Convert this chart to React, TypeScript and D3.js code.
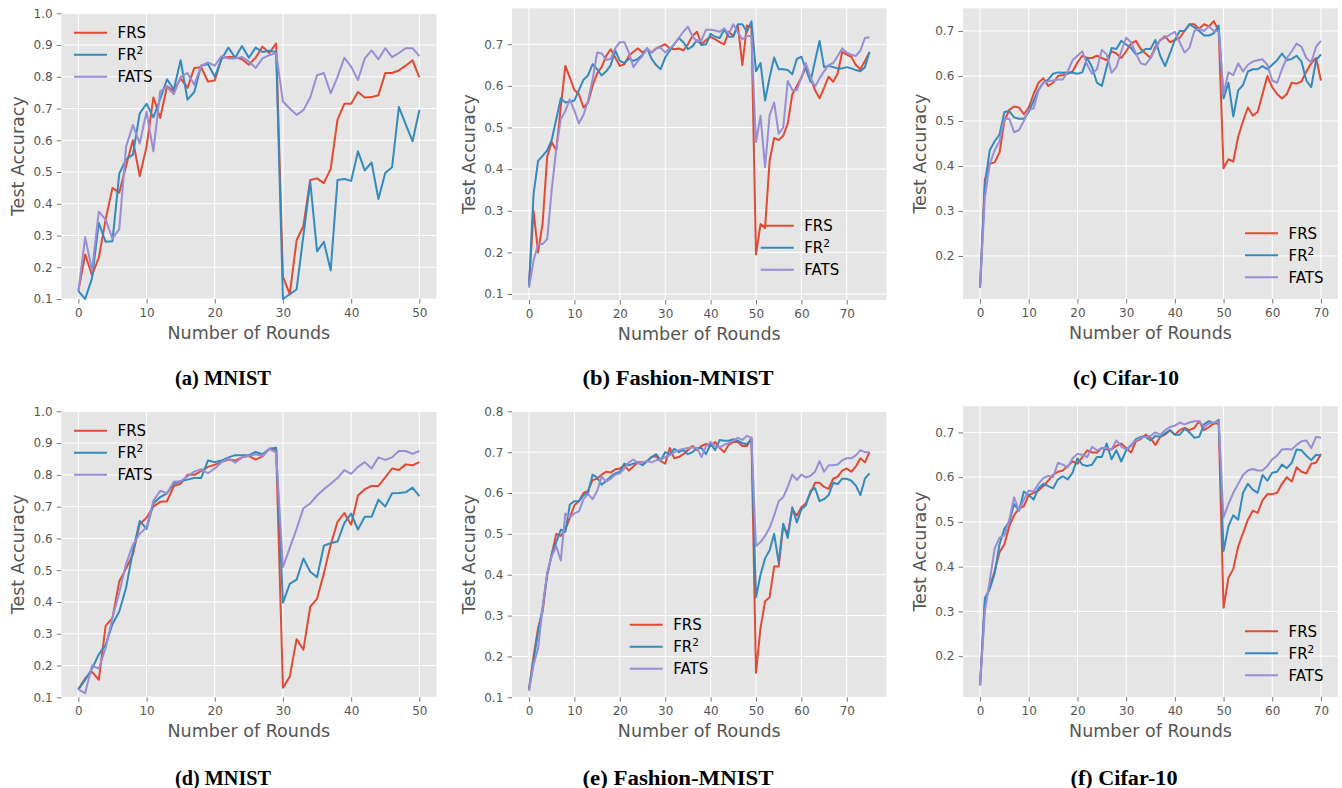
import React, { useEffect, useRef } from 'react';
import * as d3 from 'd3';

// ---- data ----
const seriesNames = ['FRS', 'FR2', 'FATS'];
const seriesColors = ['#E24A33', '#348ABD', '#988ED5'];
const captions = ['(a) MNIST', '(b) Fashion-MNIST', '(c) Cifar-10', '(d) MNIST', '(e) Fashion-MNIST', '(f) Cifar-10'];

const ticksX50 = [0, 10, 20, 30, 40, 50];
const ticksX70 = [0, 10, 20, 30, 40, 50, 60, 70];
const ticksY10 = [0.1, 0.2, 0.3, 0.4, 0.5, 0.6, 0.7, 0.8, 0.9, 1.0];
const ticksY07 = [0.1, 0.2, 0.3, 0.4, 0.5, 0.6, 0.7];
const ticksY27 = [0.2, 0.3, 0.4, 0.5, 0.6, 0.7];
const ticksY08 = [0.1, 0.2, 0.3, 0.4, 0.5, 0.6, 0.7, 0.8];

// (a) MNIST
const aFRS = [0.125, 0.24, 0.175, 0.23, 0.35, 0.45, 0.435, 0.52, 0.60, 0.487,
  0.58, 0.735, 0.67, 0.77, 0.755, 0.795, 0.765, 0.828, 0.83, 0.785,
  0.788, 0.86, 0.862, 0.862, 0.855, 0.838, 0.86, 0.895, 0.875, 0.905,
  0.17, 0.115, 0.285, 0.33, 0.475, 0.48, 0.465, 0.51, 0.665, 0.715,
  0.715, 0.752, 0.735, 0.736, 0.742, 0.812, 0.812, 0.82, 0.835, 0.852,
  0.798];
const aFR2 = [0.125, 0.10, 0.165, 0.34, 0.28, 0.282, 0.495, 0.54, 0.555, 0.685,
  0.715, 0.672, 0.73, 0.792, 0.76, 0.852, 0.728, 0.752, 0.835, 0.84,
  0.80, 0.855, 0.892, 0.86, 0.897, 0.86, 0.892, 0.878, 0.882, 0.878,
  0.10, 0.115, 0.13, 0.30, 0.47, 0.25, 0.28, 0.19, 0.475, 0.478,
  0.472, 0.565, 0.505, 0.53, 0.415, 0.497, 0.515, 0.705, 0.65, 0.597,
  0.695];
const aFATS = [0.125, 0.295, 0.19, 0.375, 0.35, 0.29, 0.32, 0.58, 0.648, 0.59,
  0.69, 0.565, 0.755, 0.768, 0.745, 0.80, 0.812, 0.775, 0.835, 0.845,
  0.835, 0.865, 0.858, 0.858, 0.862, 0.848, 0.828, 0.858, 0.868, 0.875,
  0.722, 0.70, 0.68, 0.695, 0.735, 0.805, 0.812, 0.748, 0.80, 0.86,
  0.832, 0.79, 0.858, 0.883, 0.855, 0.89, 0.862, 0.875, 0.89, 0.89,
  0.865];

// (b) Fashion-MNIST
const bFRS = [0.12, 0.30, 0.20, 0.27, 0.43, 0.465, 0.445, 0.55, 0.648, 0.62,
  0.59, 0.58, 0.548, 0.56, 0.60, 0.63, 0.645, 0.672, 0.688, 0.668,
  0.648, 0.652, 0.672, 0.682, 0.69, 0.68, 0.688, 0.68, 0.69, 0.695,
  0.70, 0.69, 0.688, 0.69, 0.685, 0.70, 0.72, 0.73, 0.70, 0.71,
  0.718, 0.712, 0.705, 0.70, 0.73, 0.72, 0.745, 0.65, 0.745, 0.74,
  0.195, 0.268, 0.258, 0.42, 0.475, 0.47, 0.48, 0.51, 0.58, 0.60,
  0.62, 0.645, 0.62, 0.59, 0.57, 0.595, 0.622, 0.61, 0.63, 0.682,
  0.675, 0.67, 0.65, 0.64, 0.66, 0.68];
const bFR2 = [0.12, 0.34, 0.42, 0.432, 0.445, 0.47, 0.52, 0.57, 0.56, 0.562,
  0.565, 0.59, 0.615, 0.625, 0.652, 0.64, 0.625, 0.635, 0.65, 0.685,
  0.66, 0.655, 0.665, 0.66, 0.665, 0.675, 0.69, 0.665, 0.65, 0.64,
  0.668, 0.685, 0.70, 0.715, 0.705, 0.688, 0.695, 0.71, 0.698, 0.70,
  0.725, 0.718, 0.715, 0.735, 0.718, 0.718, 0.748, 0.748, 0.73, 0.755,
  0.635, 0.655, 0.565, 0.62, 0.668, 0.64, 0.64, 0.638, 0.628, 0.665,
  0.67, 0.64, 0.61, 0.66, 0.708, 0.645, 0.648, 0.645, 0.642, 0.642,
  0.645, 0.642, 0.638, 0.635, 0.645, 0.682];
const bFATS = [0.115, 0.18, 0.22, 0.22, 0.232, 0.35, 0.45, 0.52, 0.54, 0.568,
  0.54, 0.51, 0.53, 0.565, 0.615, 0.68, 0.678, 0.662, 0.665, 0.69,
  0.705, 0.705, 0.68, 0.645, 0.66, 0.672, 0.69, 0.68, 0.69, 0.692,
  0.68, 0.69, 0.70, 0.715, 0.73, 0.742, 0.72, 0.705, 0.71, 0.735,
  0.735, 0.733, 0.73, 0.738, 0.725, 0.748, 0.728, 0.712, 0.72, 0.72,
  0.465, 0.528, 0.405, 0.53, 0.56, 0.485, 0.50, 0.612, 0.59, 0.59,
  0.62, 0.655, 0.62, 0.598, 0.618, 0.635, 0.65, 0.655, 0.672, 0.69,
  0.68, 0.675, 0.672, 0.685, 0.715, 0.717];

// (c) Cifar-10
const cFRS = [0.13, 0.37, 0.405, 0.408, 0.43, 0.50, 0.525, 0.532, 0.53, 0.515,
  0.53, 0.56, 0.585, 0.595, 0.578, 0.585, 0.60, 0.602, 0.605, 0.61,
  0.63, 0.645, 0.64, 0.64, 0.645, 0.64, 0.635, 0.655, 0.65, 0.64,
  0.655, 0.672, 0.678, 0.66, 0.65, 0.64, 0.665, 0.68, 0.688, 0.675,
  0.68, 0.685, 0.70, 0.715, 0.715, 0.705, 0.715, 0.71, 0.722, 0.70,
  0.395, 0.415, 0.41, 0.465, 0.50, 0.53, 0.512, 0.52, 0.56, 0.60,
  0.575, 0.56, 0.55, 0.56, 0.585, 0.583, 0.588, 0.61, 0.628, 0.64,
  0.59];
const cFR2 = [0.13, 0.36, 0.435, 0.455, 0.47, 0.52, 0.522, 0.508, 0.505, 0.505,
  0.52, 0.545, 0.57, 0.585, 0.592, 0.605, 0.608, 0.607, 0.608, 0.607,
  0.605, 0.608, 0.64, 0.62, 0.585, 0.578, 0.62, 0.662, 0.66, 0.678,
  0.67, 0.662, 0.648, 0.652, 0.66, 0.66, 0.68, 0.645, 0.622, 0.65,
  0.68, 0.70, 0.70, 0.715, 0.708, 0.70, 0.69, 0.69, 0.695, 0.712,
  0.55, 0.585, 0.51, 0.568, 0.58, 0.61, 0.615, 0.615, 0.622, 0.615,
  0.625, 0.635, 0.65, 0.635, 0.638, 0.645, 0.632, 0.59, 0.575, 0.635,
  0.648];
const cFATS = [0.13, 0.33, 0.405, 0.435, 0.455, 0.505, 0.505, 0.475, 0.48, 0.50,
  0.525, 0.528, 0.568, 0.585, 0.588, 0.59, 0.592, 0.592, 0.61, 0.635,
  0.645, 0.655, 0.625, 0.605, 0.615, 0.658, 0.648, 0.607, 0.62, 0.655,
  0.685, 0.675, 0.65, 0.628, 0.625, 0.64, 0.66, 0.68, 0.685, 0.692,
  0.698, 0.675, 0.652, 0.663, 0.70, 0.705, 0.70, 0.71, 0.70, 0.70,
  0.56, 0.608, 0.602, 0.628, 0.61, 0.625, 0.632, 0.635, 0.637, 0.625,
  0.59, 0.585, 0.615, 0.64, 0.655, 0.672, 0.665, 0.64, 0.63, 0.665,
  0.678];

// (d) MNIST
const dFRS = [0.125, 0.16, 0.18, 0.155, 0.325, 0.35, 0.465, 0.505, 0.55, 0.645,
  0.665, 0.70, 0.715, 0.717, 0.765, 0.772, 0.80, 0.80, 0.812, 0.825,
  0.832, 0.84, 0.848, 0.845, 0.855, 0.86, 0.848, 0.858, 0.882, 0.88,
  0.13, 0.165, 0.283, 0.25, 0.385, 0.41, 0.49, 0.58, 0.652, 0.68,
  0.643, 0.735, 0.755, 0.765, 0.765, 0.792, 0.82, 0.815, 0.833, 0.83,
  0.84];
const dFR2 = [0.125, 0.155, 0.19, 0.235, 0.265, 0.33, 0.37, 0.445, 0.56, 0.655,
  0.63, 0.71, 0.73, 0.742, 0.772, 0.78, 0.785, 0.79, 0.79, 0.845,
  0.84, 0.845, 0.855, 0.862, 0.862, 0.862, 0.872, 0.865, 0.882, 0.885,
  0.398, 0.457, 0.47, 0.537, 0.495, 0.478, 0.577, 0.585, 0.59, 0.648,
  0.678, 0.628, 0.668, 0.668, 0.722, 0.70, 0.742, 0.743, 0.745, 0.76,
  0.733];
const dFATS = [0.125, 0.113, 0.2, 0.19, 0.255, 0.35, 0.43, 0.52, 0.58, 0.615,
  0.635, 0.718, 0.75, 0.742, 0.778, 0.78, 0.795, 0.81, 0.818, 0.805,
  0.82, 0.84, 0.852, 0.838, 0.855, 0.86, 0.865, 0.86, 0.882, 0.87,
  0.51, 0.57, 0.63, 0.695, 0.71, 0.735, 0.755, 0.772, 0.79, 0.815,
  0.803, 0.825, 0.84, 0.82, 0.855, 0.847, 0.855, 0.875, 0.875, 0.866,
  0.875];

// (e) Fashion-MNIST
const eFRS = [0.12, 0.20, 0.27, 0.31, 0.40, 0.45, 0.50, 0.495, 0.51, 0.54,
  0.57, 0.58, 0.60, 0.605, 0.632, 0.635, 0.645, 0.652, 0.65, 0.658,
  0.66, 0.668, 0.655, 0.665, 0.675, 0.675, 0.678, 0.688, 0.69, 0.678,
  0.672, 0.71, 0.685, 0.688, 0.695, 0.705, 0.715, 0.705, 0.715, 0.72,
  0.715, 0.725, 0.71, 0.70, 0.718, 0.725, 0.725, 0.715, 0.715, 0.735,
  0.16, 0.27, 0.335, 0.345, 0.42, 0.42, 0.52, 0.50, 0.56, 0.545,
  0.565, 0.575, 0.60, 0.625, 0.625, 0.615, 0.61, 0.635, 0.64, 0.655,
  0.66, 0.652, 0.665, 0.685, 0.675, 0.70];
const eFR2 = [0.12, 0.19, 0.26, 0.32, 0.40, 0.45, 0.48, 0.51, 0.505, 0.572,
  0.58, 0.58, 0.595, 0.60, 0.645, 0.638, 0.62, 0.63, 0.64, 0.648,
  0.652, 0.672, 0.668, 0.672, 0.675, 0.668, 0.678, 0.688, 0.695, 0.68,
  0.70, 0.695, 0.708, 0.70, 0.705, 0.695, 0.70, 0.71, 0.71, 0.695,
  0.72, 0.705, 0.73, 0.728, 0.728, 0.732, 0.728, 0.722, 0.72, 0.73,
  0.345, 0.40, 0.44, 0.46, 0.50, 0.43, 0.525, 0.49, 0.565, 0.528,
  0.56, 0.57, 0.605, 0.612, 0.58, 0.585, 0.595, 0.625, 0.622, 0.635,
  0.635, 0.63, 0.618, 0.595, 0.635, 0.648];
const eFATS = [0.115, 0.18, 0.22, 0.32, 0.405, 0.445, 0.47, 0.435, 0.55, 0.54,
  0.55, 0.555, 0.585, 0.598, 0.585, 0.605, 0.64, 0.628, 0.635, 0.645,
  0.648, 0.66, 0.675, 0.682, 0.672, 0.675, 0.678, 0.675, 0.68, 0.682,
  0.688, 0.692, 0.70, 0.705, 0.708, 0.71, 0.712, 0.71, 0.688, 0.715,
  0.725, 0.715, 0.712, 0.718, 0.722, 0.728, 0.735, 0.73, 0.74, 0.735,
  0.47, 0.48, 0.495, 0.515, 0.545, 0.58, 0.59, 0.615, 0.645, 0.632,
  0.645, 0.638, 0.642, 0.652, 0.678, 0.652, 0.668, 0.668, 0.67, 0.68,
  0.685, 0.685, 0.692, 0.705, 0.70, 0.70];

// (f) Cifar-10
const fFRS = [0.135, 0.32, 0.355, 0.39, 0.432, 0.45, 0.49, 0.515, 0.53, 0.535,
  0.56, 0.565, 0.57, 0.58, 0.592, 0.605, 0.612, 0.615, 0.625, 0.635,
  0.63, 0.645, 0.66, 0.655, 0.655, 0.665, 0.662, 0.662, 0.67, 0.675,
  0.665, 0.655, 0.68, 0.685, 0.695, 0.688, 0.672, 0.69, 0.695, 0.705,
  0.695, 0.705, 0.71, 0.705, 0.71, 0.725, 0.705, 0.712, 0.72, 0.72,
  0.308, 0.375, 0.395, 0.445, 0.475, 0.505, 0.525, 0.52, 0.548, 0.562,
  0.562, 0.565, 0.585, 0.60, 0.59, 0.622, 0.612, 0.608, 0.63, 0.632,
  0.652];
const fFR2 = [0.135, 0.33, 0.35, 0.385, 0.45, 0.485, 0.50, 0.54, 0.525, 0.568,
  0.56, 0.55, 0.575, 0.585, 0.58, 0.575, 0.595, 0.602, 0.595, 0.61,
  0.642, 0.628, 0.625, 0.628, 0.645, 0.645, 0.675, 0.64, 0.66, 0.635,
  0.66, 0.67, 0.685, 0.69, 0.69, 0.682, 0.692, 0.69, 0.698, 0.705,
  0.695, 0.695, 0.708, 0.70, 0.688, 0.69, 0.718, 0.725, 0.72, 0.728,
  0.435, 0.49, 0.515, 0.505, 0.565, 0.585, 0.572, 0.565, 0.605, 0.592,
  0.61, 0.612, 0.628, 0.62, 0.632, 0.662, 0.66, 0.648, 0.638, 0.65,
  0.648];
const fFATS = [0.135, 0.30, 0.37, 0.44, 0.465, 0.47, 0.505, 0.555, 0.525, 0.55,
  0.57, 0.568, 0.585, 0.598, 0.603, 0.60, 0.632, 0.628, 0.622, 0.642,
  0.652, 0.65, 0.645, 0.668, 0.66, 0.665, 0.665, 0.662, 0.682, 0.668,
  0.662, 0.672, 0.682, 0.688, 0.69, 0.692, 0.70, 0.695, 0.705, 0.712,
  0.715, 0.722, 0.718, 0.722, 0.725, 0.725, 0.712, 0.72, 0.722, 0.725,
  0.51, 0.54, 0.565, 0.585, 0.605, 0.615, 0.618, 0.615, 0.615, 0.625,
  0.64, 0.648, 0.662, 0.663, 0.662, 0.672, 0.68, 0.682, 0.665, 0.69,
  0.688];

// ---- layout of the six panels ----
const panels = [
  { box: [61.3, 436.4, 13.3, 299], xDom: [-2.5, 52.5], yDom: [0.1, 1.0], xTicks: ticksX50, yTicks: ticksY10, series: [aFRS, aFR2, aFATS], legend: [74, 32.7], yLabelX: 18.3, cap: [223, 378, 96] },
  { box: [512, 886.5, 8.3, 300], xDom: [-3.75, 78.75], yDom: [0.0856, 0.7864], xTicks: ticksX70, yTicks: ticksY07, series: [bFRS, bFR2, bFATS], legend: [760.7, 225.7], yLabelX: 468.7, cap: [678, 378, 191] },
  { box: [963, 1338, 8.3, 299], xDom: [-3.5, 73.5], yDom: [0.1044, 0.7504], xTicks: ticksX70, yTicks: ticksY27, series: [cFRS, cFR2, cFATS], legend: [1245, 233.3], yLabelX: 920, cap: [1126, 378, 106] },
  { box: [61.3, 436.4, 411.3, 697.3], xDom: [-2.5, 52.5], yDom: [0.1, 1.0], xTicks: ticksX50, yTicks: ticksY10, series: [dFRS, dFR2, dFATS], legend: [74, 430.7], yLabelX: 18.3, cap: [223, 778, 96] },
  { box: [512, 886.5, 411.3, 697.3], xDom: [-3.75, 78.75], yDom: [0.1, 0.8], xTicks: ticksX70, yTicks: ticksY08, series: [eFRS, eFR2, eFATS], legend: [629.7, 624.7], yLabelX: 468.7, cap: [678, 778, 191] },
  { box: [963, 1338, 406.3, 697], xDom: [-3.5, 73.5], yDom: [0.1087, 0.7583], xTicks: ticksX70, yTicks: ticksY27, series: [fFRS, fFR2, fFATS], legend: [1245, 631.3], yLabelX: 920, cap: [1124, 778, 107] },
];

const sans = 'DejaVu Sans, sans-serif';

function draw(node: SVGSVGElement) {
  const svg = d3.select(node);
  svg.selectAll('*').remove();

  panels.forEach((p, pi) => {
    const [l, r, t, b] = p.box;
    const x = d3.scaleLinear().domain(p.xDom).range([l, r]);
    const y = d3.scaleLinear().domain(p.yDom).range([b, t]);
    const g = svg.append('g');

    g.append('rect').attr('x', l).attr('y', t).attr('width', r - l).attr('height', b - t).attr('fill', '#E5E5E5');

    // grid
    g.selectAll('vgrid').data(p.xTicks).enter().append('line')
      .attr('x1', d => x(d)).attr('x2', d => x(d)).attr('y1', t).attr('y2', b)
      .attr('stroke', '#fff').attr('stroke-width', 1);
    g.selectAll('hgrid').data(p.yTicks).enter().append('line')
      .attr('x1', l).attr('x2', r).attr('y1', d => y(d)).attr('y2', d => y(d))
      .attr('stroke', '#fff').attr('stroke-width', 1);

    // axes
    const xa = g.append('g').attr('transform', `translate(0,${b})`)
      .call(d3.axisBottom(x).tickValues(p.xTicks).tickSize(4.5).tickPadding(5).tickFormat(d3.format('d')));
    const ya = g.append('g').attr('transform', `translate(${l},0)`)
      .call(d3.axisLeft(y).tickValues(p.yTicks).tickSize(4.5).tickPadding(4.2).tickFormat(d3.format('.1f')));
    [xa, ya].forEach(a => {
      a.select('.domain').remove();
      a.attr('font-family', sans).attr('font-size', 12);
      a.selectAll('line').attr('stroke', '#555').attr('stroke-width', 0.8);
      a.selectAll('text').attr('fill', '#555');
    });

    // axis labels
    g.append('text').attr('x', (l + r) / 2).attr('y', b + 34).attr('dy', '0.35em')
      .attr('text-anchor', 'middle').attr('font-family', sans).attr('font-size', 17.5).attr('fill', '#555')
      .text('Number of Rounds');
    g.append('text').attr('transform', `translate(${p.yLabelX},${(t + b) / 2}) rotate(-90)`).attr('dy', '0.35em')
      .attr('text-anchor', 'middle').attr('font-family', sans).attr('font-size', 17.5).attr('fill', '#555')
      .text('Test Accuracy');

    // lines
    const line = d3.line<number>().x((d, i) => x(i)).y(d => y(d));
    p.series.forEach((s, si) => {
      g.append('path').datum(s).attr('d', line).attr('fill', 'none')
        .attr('stroke', seriesColors[si]).attr('stroke-width', 2).attr('stroke-linejoin', 'round');
    });

    // legend (no frame)
    const [lx, ly] = p.legend;
    seriesNames.forEach((name, si) => {
      const yy = ly + si * 22;
      g.append('line').attr('x1', lx).attr('x2', lx + 33).attr('y1', yy).attr('y2', yy)
        .attr('stroke', seriesColors[si]).attr('stroke-width', 2);
      const tx = g.append('text').attr('x', lx + 43.5).attr('y', yy).attr('dy', '0.36em')
        .attr('font-family', sans).attr('font-size', 15).attr('fill', '#000');
      if (name === 'FR2') {
        tx.append('tspan').text('FR');
        tx.append('tspan').attr('dy', -6).attr('font-size', 10.5).text('2');
      } else {
        tx.text(name);
      }
    });

    // caption
    const [cx, cy, cw] = p.cap;
    svg.append('text').attr('x', cx - cw / 2).attr('y', cy).attr('dy', '0.35em')
      .attr('font-family', 'Liberation Serif, serif').attr('font-weight', 'bold').attr('font-size', 20)
      .attr('textLength', cw).attr('lengthAdjust', 'spacingAndGlyphs')
      .text(captions[pi]);
  });
}

export default function App() {
  const ref = useRef<SVGSVGElement>(null);
  useEffect(() => {
    if (ref.current) draw(ref.current);
  }, []);
  return (
    <svg ref={ref} width={1342} height={788}
      style={{ position: 'absolute', left: 0, top: 0, background: '#fff' }} />
  );
}
